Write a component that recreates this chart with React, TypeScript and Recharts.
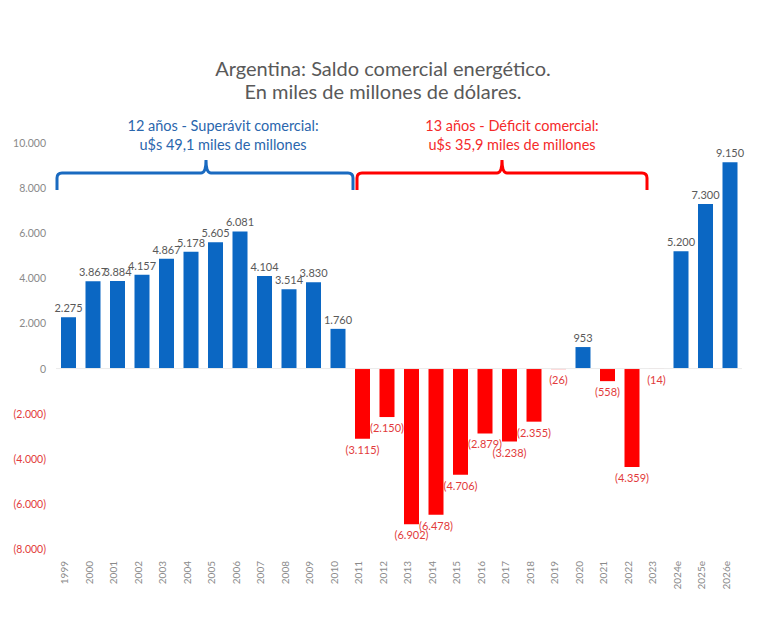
import { BarChart, Bar, XAxis, YAxis, Cell, LabelList, ReferenceLine } from "recharts";

const YEARS = [
  "1999", "2000", "2001", "2002", "2003", "2004", "2005", "2006", "2007", "2008",
  "2009", "2010", "2011", "2012", "2013", "2014", "2015", "2016", "2017", "2018",
  "2019", "2020", "2021", "2022", "2023", "2024e", "2025e", "2026e",
];

const SALDO = [
  2275, 3867, 3884, 4157, 4867, 5178, 5605, 6081, 4104, 3514,
  3830, 1760, -3115, -2150, -6902, -6478, -4706, -2879, -3238, -2355,
  -26, 953, -558, -4359, -14, 5200, 7300, 9150,
];

const Y_TICKS = [-8000, -6000, -4000, -2000, 0, 2000, 4000, 6000, 8000, 10000];

const BLUE = "#0b67c3";
const RED = "#ff0000";
const FONT = "Lato, 'Open Sans', sans-serif";

const data = YEARS.map((year, i) => ({ year, value: SALDO[i] }));

function fmt(v: number) {
  const s = Math.abs(v).toString().replace(/\B(?=(\d{3})+(?!\d))/g, ".");
  return v < 0 ? `(${s})` : s;
}

const YTick = (props: any) => {
  const { x, y, payload } = props;
  const v = payload.value;
  return (
    <text x={x} y={y} dy={4} textAnchor="end" fontSize={10.5} fontFamily={FONT}
      fill={v < 0 ? "#e23b3b" : "#8a8a8a"}>
      {fmt(v)}
    </text>
  );
};

const XTick = (props: any) => {
  const { x, y, payload } = props;
  return (
    <text x={x} y={y} dx={4} textAnchor="end" fontSize={10} fontFamily={FONT}
      fill="#8a8a8a" transform={`rotate(-90, ${x}, ${y})`}>
      {payload.value}
    </text>
  );
};

const ValueLabel = (props: any) => {
  const { x, y, width, height, value } = props;
  const cx = x + width / 2;
  if (value >= 0) {
    const top = Math.min(y, y + height);
    return (
      <text x={cx} y={top - 5} textAnchor="middle" fontSize={11} fontFamily={FONT} fill="#595959">
        {fmt(value)}
      </text>
    );
  }
  const bottom = Math.max(y, y + height);
  return (
    <text x={cx} y={bottom + 15} textAnchor="middle" fontSize={11} fontFamily={FONT} fill="#e23b3b">
      {fmt(value)}
    </text>
  );
};

export default function App() {
  return (
    <div style={{ position: "absolute", left: 0, top: 0, width: 780, height: 619, background: "#fff" }}>
      <BarChart
        width={780}
        height={619}
        data={data}
        margin={{ top: 143, right: 38, bottom: 8, left: 0 }}
        barCategoryGap={0}
      >
        <YAxis
          domain={[-8000, 10000]}
          ticks={Y_TICKS}
          width={56}
          axisLine={false}
          tickLine={false}
          tickSize={0}
          tickMargin={10}
          tick={<YTick />}
          interval={0}
        />
        <XAxis
          dataKey="year"
          height={62}
          axisLine={false}
          tickLine={false}
          tickSize={0}
          tickMargin={16}
          interval={0}
          tick={<XTick />}
        />
        <ReferenceLine y={0} stroke="#ececec" strokeWidth={1} />
        <Bar dataKey="value" barSize={15} isAnimationActive={false}>
          {data.map((d, i) => (
            <Cell key={i} fill={d.value < 0 ? RED : BLUE} />
          ))}
          <LabelList dataKey="value" content={<ValueLabel />} />
        </Bar>
      </BarChart>
      <svg width={780} height={619} style={{ position: "absolute", left: 0, top: 0, pointerEvents: "none" }}>
        <g fontFamily={FONT} textAnchor="middle">
          <text x={383} y={76} fontSize={20} fill="#595959">Argentina: Saldo comercial energético.</text>
          <text x={383} y={99} fontSize={20} fill="#595959">En miles de millones de dólares.</text>
          <text x={223} y={131} fontSize={14.5} fill="#2a66ad">12 años - Superávit comercial:</text>
          <text x={223} y={150} fontSize={14.5} fill="#2a66ad">u$s 49,1 miles de millones</text>
          <text x={512} y={131} fontSize={14.5} fill="#f52a2a">13 años - Déficit comercial:</text>
          <text x={512} y={150} fontSize={14.5} fill="#f52a2a">u$s 35,9 miles de millones</text>
        </g>
        <path
          d="M57,190 L57,178 Q57,173 62,173 L201,173 Q206,173 206,160 Q206,173 211,173 L348,173 Q353,173 353,178 L353,190"
          fill="none" stroke="#1a6ac0" strokeWidth={3}
        />
        <path
          d="M357,190 L357,178 Q357,173 362,173 L497,173 Q502,173 502,160 Q502,173 507,173 L642,173 Q647,173 647,178 L647,190"
          fill="none" stroke={RED} strokeWidth={3}
        />
      </svg>
    </div>
  );
}
